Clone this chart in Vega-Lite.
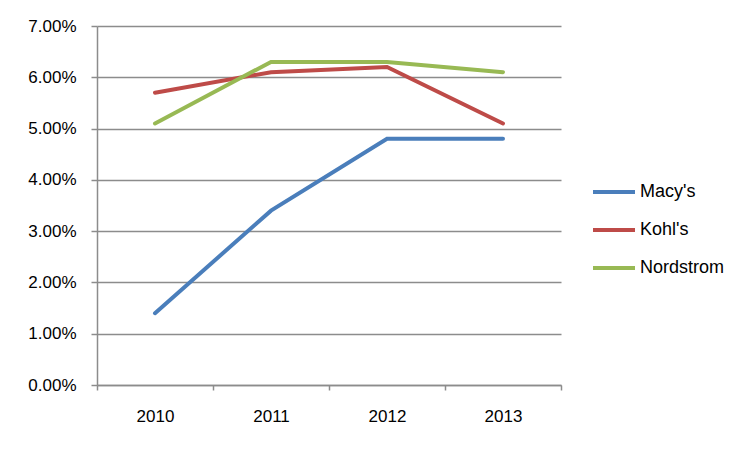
{
  "$schema": "https://vega.github.io/schema/vega-lite/v6.json",
  "autosize": "none",
  "width": 464,
  "height": 359,
  "padding": {"left": 97, "top": 26, "right": 195, "bottom": 71},
  "background": "white",
  "config": {
    "font": "Liberation Sans",
    "view": {"stroke": null}
  },
  "data": {
    "values": [
      {"year": "2010", "company": "Macy's", "value": 0.014},
      {"year": "2011", "company": "Macy's", "value": 0.034},
      {"year": "2012", "company": "Macy's", "value": 0.048},
      {"year": "2013", "company": "Macy's", "value": 0.048},
      {"year": "2010", "company": "Kohl's", "value": 0.057},
      {"year": "2011", "company": "Kohl's", "value": 0.061},
      {"year": "2012", "company": "Kohl's", "value": 0.062},
      {"year": "2013", "company": "Kohl's", "value": 0.051},
      {"year": "2010", "company": "Nordstrom", "value": 0.051},
      {"year": "2011", "company": "Nordstrom", "value": 0.063},
      {"year": "2012", "company": "Nordstrom", "value": 0.063},
      {"year": "2013", "company": "Nordstrom", "value": 0.061}
    ]
  },
  "mark": {"type": "line", "strokeWidth": 4, "strokeCap": "round"},
  "encoding": {
    "x": {
      "field": "year", "type": "ordinal",
      "scale": {"type": "band", "paddingInner": 0, "paddingOuter": 0},
      "axis": {
        "title": null, "labelAngle": 0, "grid": false,
        "tickBand": "extent", "domainColor": "#8c8c8c", "tickColor": "#8c8c8c",
        "tickSize": 5, "labelPadding": 18, "labelFontSize": 17, "labelColor": "black",
        "domainWidth": 1.5, "tickWidth": 1.5
      }
    },
    "y": {
      "field": "value", "type": "quantitative",
      "scale": {"domain": [0, 0.07], "nice": false},
      "axis": {
        "title": null, "format": ".2%", "values": [0, 0.01, 0.02, 0.03, 0.04, 0.05, 0.06, 0.07],
        "gridColor": "#8c8c8c", "gridWidth": 1.5, "domainColor": "#8c8c8c", "tickColor": "#8c8c8c",
        "domainWidth": 1.5, "tickWidth": 1.5,
        "tickSize": 6, "labelPadding": 15, "labelFontSize": 17, "labelColor": "black"
      }
    },
    "color": {
      "field": "company", "type": "nominal",
      "scale": {"domain": ["Macy's", "Kohl's", "Nordstrom"], "range": ["#4a7ebb", "#be4b48", "#98b954"]},
      "legend": {
        "title": null, "orient": "none", "legendX": 494, "legendY": 143,
        "symbolType": "stroke", "symbolSize": 1764, "symbolStrokeWidth": 4,
        "labelFontSize": 18, "labelColor": "black", "rowPadding": 6, "labelOffset": 3
      }
    }
  }
}
